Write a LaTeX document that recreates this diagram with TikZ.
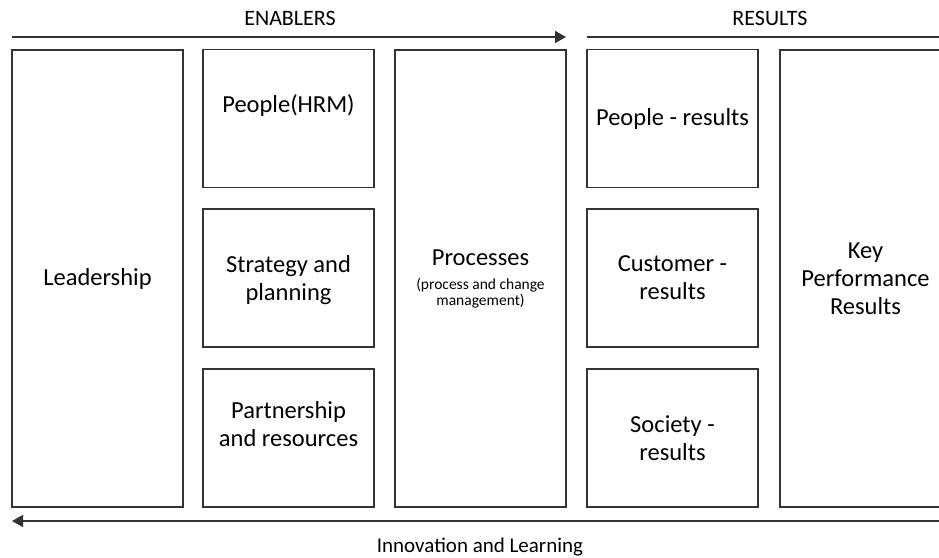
\documentclass[tikz,border=0pt]{standalone}
\usepackage{fontspec}
\setmainfont{Carlito}
\usetikzlibrary{arrows.meta}

\begin{document}
\begin{tikzpicture}[%
    x=1pt, y=-1pt,
    box/.style = {draw=black!80, line width=1.6pt, align=center, inner sep=2pt,
        minimum width=171pt, font=\fontsize{24.5}{28}\selectfont},
    lift/.style = {text depth=#1},
    flow/.style = {draw=black!80, line width=1.6pt, -{Triangle[length=11pt, width=12pt]}},
    head/.style = {font=\fontsize{22}{26}\selectfont}
]
\useasboundingbox (0,0) rectangle (939,557);

% enablers
\node (lead) [box, minimum height=457pt] at (97.5,278.5) {Leadership};
\node (proc) [box, minimum height=457pt] at (480.5,278.5)
    {Processes\\[-4pt]{\fontsize{15.5}{16}\selectfont (process and change}\\[-12pt]{\fontsize{15.5}{16}\selectfont management)}};
% results
\node (kpr) [box, minimum height=457pt] at (865.5,278.5) {Key\\Performance\\Results};

\foreach \y/\d/\a/\b [count=\i] in {118.5/30pt/{People(HRM)}/{People - results},
        278/1pt/{Strategy and\\planning}/{Customer -\\results},
        438/28pt/{Partnership\\and resources}/{Society -\\results}} {
    \node (en\i) [box, lift=\d, minimum height=138pt] at (288.5,\y) {\a};
    \node (re\i) [box, minimum height=138pt] at (672.5,\y) {\b};
}

% arrows
\coordinate (enS) at (12,37);
\coordinate (enE) at (566,37);
\coordinate (reS) at (587,37);
\coordinate (reE) at (950,37);
\coordinate (ilS) at (950,521);
\coordinate (ilE) at (12,521);
\draw [flow] (enS) -- (enE);
\draw [flow] (reS) -- (reE);
\draw [flow] (ilS) -- (ilE);

\node (enablers) [head] at (290,18) {ENABLERS};
\node (results) [head] at (770,18) {RESULTS};
\node (innov) [head, font=\fontsize{21}{26}\selectfont] at (480,547) {Innovation and Learning};
\end{tikzpicture}
\end{document}
